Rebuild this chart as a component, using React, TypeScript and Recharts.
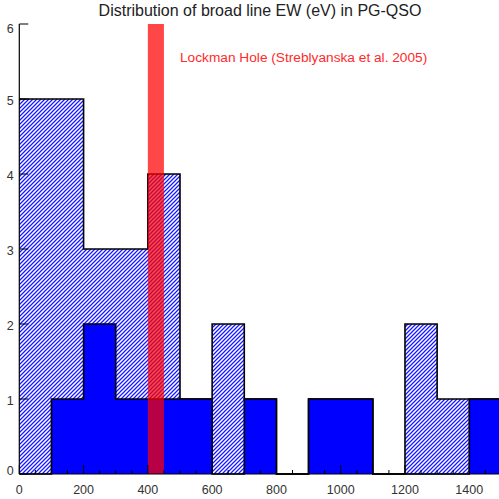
import { ComposedChart, Area, XAxis, YAxis, ReferenceArea } from 'recharts'

// histogram bin edges in eV (100 eV bins, last edge closes the final bin)
const binEdges = [0, 100, 200, 300, 400, 500, 600, 700, 800, 900, 1000, 1100, 1200, 1300, 1400, 1500]
// counts per bin: whole PG-QSO sample (hatched) and the filled subsample
const allCounts = [5, 5, 3, 3, 4, 1, 2, 1, 0, 1, 1, 0, 2, 1, 1]
const subCounts = [0, 1, 2, 1, 1, 1, 0, 1, 0, 1, 1, 0, 0, 0, 1]
// Lockman Hole mean EW range (eV)
const lockmanBand = [400, 450]

const xLabelTicks = [0, 200, 400, 600, 800, 1000, 1200, 1400]
const yTicks = [0, 1, 2, 3, 4, 5, 6]

const xMax = 1500
const yMax = 6

// minor ticks every 50 eV along both horizontal axes
const xTicks: number[] = []
for (let v = 0; v <= xMax; v += 50) xTicks.push(v)

// step-area points: each edge carries the count of the bin that starts there
const data = binEdges.map((edge, i) => {
  const k = Math.min(i, allCounts.length - 1)
  return { edge, all: allCounts[k], sub: subCounts[k] }
})

const labelColor = '#333'

const BottomTick = (props: any) => {
  const { x, y, payload } = props
  const v = payload.value
  const major = v % 200 === 0
  return (
    <g>
      <line x1={x} x2={x} y1={y} y2={y - (major ? 9 : 4)} stroke="#000" />
      {major && xLabelTicks.includes(v) && (
        <text x={x} y={y + 19.5} textAnchor="middle" fontSize={12.5} fill={labelColor}>
          {v}
        </text>
      )}
    </g>
  )
}

const TopTick = (props: any) => {
  const { x, y, payload } = props
  const major = payload.value % 200 === 0
  return <line x1={x} x2={x} y1={y} y2={y + (major ? 9 : 4)} stroke="#000" />
}

const LeftTick = (props: any) => {
  const { x, y, payload } = props
  const v = payload.value
  // end labels are nudged inside the frame
  const shift = v === yMax ? 4.5 : v === 0 ? -3.5 : 1
  return (
    <g>
      <line x1={x} x2={x + 9} y1={y} y2={y} stroke="#000" />
      <text x={10.3} y={y + shift + 4.5} textAnchor="middle" fontSize={12.5} fill={labelColor}>
        {v}
      </text>
    </g>
  )
}

const RightTick = (props: any) => {
  const { x, y } = props
  return <line x1={x} x2={x - 9} y1={y} y2={y} stroke="#000" />
}

export default function App() {
  return (
    <div
      style={{
        position: 'absolute',
        left: 0,
        top: 0,
        width: 499,
        height: 499,
        overflow: 'hidden',
        background: '#fff',
        fontFamily: '"Liberation Sans", Arial, sans-serif',
      }}
    >
      <ComposedChart
        width={510}
        height={499}
        data={data}
        margin={{ top: 24, right: 8.6, bottom: 0, left: 0 }}
      >
        <defs>
          <pattern id="hatch" patternUnits="userSpaceOnUse" width={4} height={4}>
            <rect width={4} height={4} fill="#fff" />
            <path d="M0,4 L4,0 M-1,1 L1,-1 M3,5 L5,3" stroke="#1a1aff" strokeWidth={1.3} />
          </pattern>
        </defs>
        <XAxis
          xAxisId="bottom"
          dataKey="edge"
          type="number"
          domain={[0, xMax]}
          ticks={xTicks}
          interval={0}
          height={25}
          tickSize={0}
          tickMargin={0}
          tickLine={false}
          axisLine={{ stroke: '#000', strokeWidth: 1.2 }}
          tick={<BottomTick />}
        />
        <XAxis
          xAxisId="top"
          orientation="top"
          type="number"
          domain={[0, xMax]}
          ticks={xTicks}
          interval={0}
          height={0}
          tickSize={0}
          tickMargin={0}
          tickLine={false}
          axisLine={{ stroke: '#000', strokeWidth: 1.2 }}
          tick={<TopTick />}
        />
        <YAxis
          yAxisId="left"
          type="number"
          domain={[0, yMax]}
          ticks={yTicks}
          interval={0}
          width={19.3}
          tickSize={0}
          tickMargin={0}
          tickLine={false}
          axisLine={{ stroke: '#000', strokeWidth: 1.2 }}
          tick={<LeftTick />}
        />
        <YAxis
          yAxisId="right"
          orientation="right"
          type="number"
          domain={[0, yMax]}
          ticks={yTicks}
          interval={0}
          width={0}
          tickSize={0}
          tickMargin={0}
          tickLine={false}
          axisLine={{ stroke: '#000', strokeWidth: 1.2 }}
          tick={<RightTick />}
        />
        <Area
          xAxisId="bottom"
          yAxisId="left"
          type="stepAfter"
          dataKey="all"
          stroke="#000"
          strokeWidth={1.6}
          fill="url(#hatch)"
          fillOpacity={1}
          isAnimationActive={false}
        />
        <Area
          xAxisId="bottom"
          yAxisId="left"
          type="stepAfter"
          dataKey="sub"
          stroke="#000"
          strokeWidth={1.6}
          fill="#0000ff"
          fillOpacity={1}
          isAnimationActive={false}
        />
        <ReferenceArea
          xAxisId="bottom"
          yAxisId="left"
          x1={lockmanBand[0]}
          x2={lockmanBand[1]}
          y1={0}
          y2={yMax}
          fill="#ff0000"
          fillOpacity={0.72}
          stroke="none"
          zIndex={150}
        />
      </ComposedChart>
      <svg
        width={499}
        height={499}
        style={{ position: 'absolute', left: 0, top: 0, pointerEvents: 'none' }}
      >
        <text x={260} y={16} textAnchor="middle" fontSize={16} fill="#222">
          Distribution of broad line EW (eV) in PG-QSO
        </text>
        <text x={180} y={61.5} fontSize={13.7} fill="#ff2a2a">
          Lockman Hole (Streblyanska et al. 2005)
        </text>
      </svg>
    </div>
  )
}
